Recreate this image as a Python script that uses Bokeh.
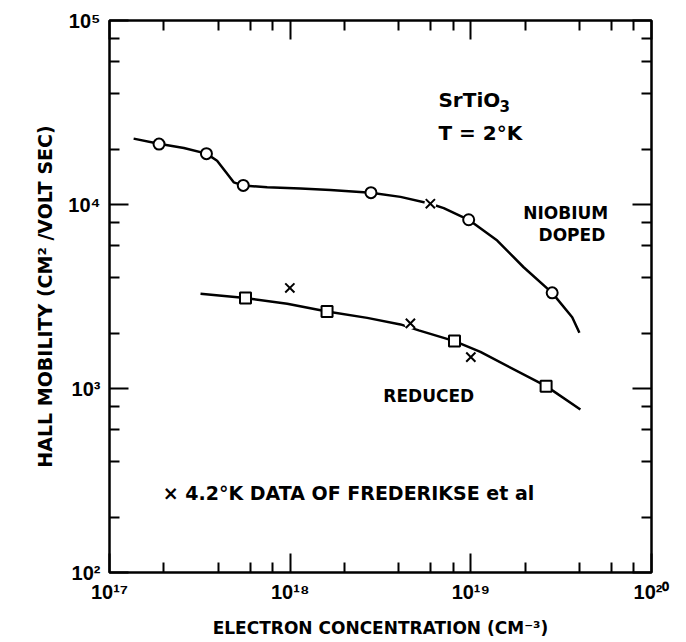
from bokeh.plotting import figure
from bokeh.models import Range1d, FixedTicker, LogAxis, Label, CustomJSTickFormatter
from bokeh.embed import file_html
from bokeh.resources import INLINE

# --- data -----------------------------------------------------------------
# Niobium-doped SrTiO3 at 2 K: measured points and the smooth curve through them
nb_x = [1.88e17, 3.44e17, 5.5e17, 2.80e18, 9.73e18, 2.82e19]
nb_y = [2.13e4, 1.89e4, 1.27e4, 1.16e4, 8.26e3, 3.31e3]
nb_curve_x = [1.36e17, 1.875e17, 2.58e17, 3.44e17, 3.94e17, 4.48e17, 4.87e17,
              5.49e17, 7.46e17, 1.14e18, 1.67e18, 2.80e18, 4.08e18, 5.98e18,
              7.08e18, 9.73e18, 1.40e19, 1.96e19, 2.82e19, 3.64e19, 3.99e19]
nb_curve_y = [2.28e4, 2.14e4, 2.03e4, 1.89e4, 1.73e4, 1.47e4, 1.32e4,
              1.27e4, 1.24e4, 1.22e4, 1.20e4, 1.16e4, 1.10e4, 1.01e4,
              9.55e3, 8.26e3, 6.37e3, 4.56e3, 3.31e3, 2.44e3, 2.01e3]

# Reduced SrTiO3 at 2 K
red_x = [5.66e17, 1.60e18, 8.12e18, 2.61e19]
red_y = [3.10e3, 2.62e3, 1.81e3, 1.03e3]
red_curve_x = [3.19e17, 5.66e17, 9.63e17, 1.60e18, 2.67e18, 4.08e18, 5.15e18,
               8.12e18, 1.13e19, 2.61e19, 4.04e19]
red_curve_y = [3.27e3, 3.10e3, 2.89e3, 2.62e3, 2.42e3, 2.23e3, 2.07e3,
               1.81e3, 1.58e3, 1.03e3, 7.69e2]

# 4.2 K data of Frederikse et al
fr_x = [9.96e17, 4.63e18, 5.97e18, 1.0e19]
fr_y = [3.52e3, 2.26e3, 1.01e4, 1.48e3]

# axis ticks and their labels
x_major = [1e17, 1e18, 1e19, 1e20]
x_minor = [m * 10.0 ** e for e in (17, 18, 19) for m in (2, 4, 6, 8)]
x_labels = ["10\u00b9\u2077", "10\u00b9\u2078", "10\u00b9\u2079", "10\u00b2\u2070"]
y_major = [1e2, 1e3, 1e4, 1e5]
y_minor = [m * 10.0 ** e for e in (2, 3, 4) for m in (2, 4, 6, 8)]
y_labels = ["10\u00b2", "10\u00b3", "10\u2074", "10\u2075"]

FONT = "DejaVu Sans"
NUM_FONT = "Liberation Sans"

p = figure(x_axis_type="log", y_axis_type="log",
           x_range=Range1d(1e17, 1e20), y_range=Range1d(1e2, 1e5),
           frame_width=542, frame_height=552,
           min_border_left=109, min_border_right=35,
           min_border_top=20, min_border_bottom=70,
           output_backend="svg", toolbar_location=None,
           background_fill_color="white", border_fill_color="white")
p.xgrid.visible = False
p.ygrid.visible = False
p.outline_line_color = "black"
p.outline_line_width = 2.5

bottom_axis = p.below[0]
left_axis = p.left[0]


def style_axis(ax, major, minor, labels=None):
    ax.ticker = FixedTicker(ticks=major, minor_ticks=minor)
    if labels is None:
        # mirror axes carry ticks only
        ax.formatter = CustomJSTickFormatter(code="return ''")
        ax.major_label_standoff = 0
    else:
        ax.formatter = CustomJSTickFormatter(
            args=dict(tick_values=major, tick_labels=labels),
            code="""
                let best = 0, err = Infinity;
                for (let i = 0; i < tick_values.length; i++) {
                    const d = Math.abs(Math.log10(tick_values[i]) - Math.log10(tick));
                    if (d < err) { err = d; best = i; }
                }
                return tick_labels[best];
            """)
        ax.major_label_text_font = NUM_FONT
        ax.major_label_text_font_style = "bold"
        ax.major_label_text_font_size = "20px"
        ax.major_label_text_color = "black"
    ax.major_tick_in = 19
    ax.major_tick_out = 0
    ax.minor_tick_in = 10
    ax.minor_tick_out = 0
    ax.major_tick_line_width = 2
    ax.minor_tick_line_width = 2
    ax.major_tick_line_color = "black"
    ax.minor_tick_line_color = "black"
    ax.axis_line_color = None


style_axis(bottom_axis, x_major, x_minor, x_labels)
style_axis(left_axis, y_major, y_minor, y_labels)
bottom_axis.major_label_standoff = 8
left_axis.major_label_standoff = 9

top_axis = LogAxis()
right_axis = LogAxis()
style_axis(top_axis, x_major, x_minor)
style_axis(right_axis, y_major, y_minor)
p.add_layout(top_axis, "above")
p.add_layout(right_axis, "right")

bottom_axis.axis_label = "ELECTRON CONCENTRATION (CM\u207b\u00b3)"
left_axis.axis_label = "HALL MOBILITY (CM\u00b2 /VOLT SEC)"
for ax, so, fs in ((bottom_axis, 12, "17px"), (left_axis, 9, "19px")):
    ax.axis_label_text_font = FONT
    ax.axis_label_text_font_style = "bold"
    ax.axis_label_text_font_size = fs
    ax.axis_label_text_color = "black"
    ax.axis_label_standoff = so

# curves
p.line(nb_curve_x, nb_curve_y, line_width=2.5, color="black", line_join="round")
p.line(red_curve_x, red_curve_y, line_width=2.5, color="black", line_join="round")

# markers
p.scatter(nb_x, nb_y, marker="circle", size=11, fill_color="white",
          line_color="black", line_width=2)
p.scatter(red_x, red_y, marker="square", size=11, fill_color="white",
          line_color="black", line_width=2)
p.scatter(fr_x, fr_y, marker="circle", size=12, fill_color="white", line_color=None)
p.scatter(fr_x, fr_y, marker="x", size=13, line_color="black", line_width=2)


def note(text, x, y, size="17px", style="bold", **kw):
    p.add_layout(Label(x=x, y=y, text=text, text_font=FONT, text_font_style=style,
                       text_font_size=size, text_color="black",
                       text_baseline="alphabetic", **kw))


note("SrTiO", 6.62e18, 3.68e4, size="20px")
note("3", 6.62e18, 3.68e4, size="15px", x_offset=61, y_offset=-6)
note("T = 2\u00b0K", 6.62e18, 2.44e4, size="20px")
note("NIOBIUM", 1.95e19, 8.95e3)
note("DOPED", 2.37e19, 6.80e3)
note("REDUCED", 3.28e18, 9.05e2)
note("\u00d7  4.2\u00b0K DATA OF FREDERIKSE et al", 1.97e17, 2.69e2, size="19px")

open("out.html", "w").write(file_html(p, INLINE))
